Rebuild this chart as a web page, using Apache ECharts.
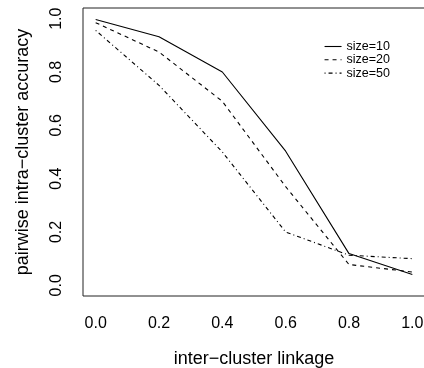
<!DOCTYPE html>
<html>
<head>
<meta charset="utf-8">
<script src="https://cdn.jsdelivr.net/npm/echarts@6/dist/echarts.min.js"></script>
<style>html,body{margin:0;padding:0;background:#fff}#c{width:424px;height:368px}</style>
</head>
<body>
<div id="c"></div>
<script>
const linkage = [0.0, 0.2, 0.4, 0.6, 0.8, 1.0];
const size10 = [0.997, 0.932, 0.80, 0.503, 0.119, 0.041];
const size20 = [0.985, 0.875, 0.69, 0.37, 0.078, 0.05];
const size50 = [0.956, 0.75, 0.50, 0.20, 0.113, 0.10];
const tickValues = [0.0, 0.2, 0.4, 0.6, 0.8, 1.0];
const seriesNames = ['size=10', 'size=20', 'size=50'];

const font = 'Liberation Sans, Arial, Helvetica, sans-serif';
const chart = echarts.init(document.getElementById('c'), null, {renderer: 'canvas'});
function pts(arr){ return linkage.map((x, i) => [x, arr[i]]); }
const styles = ['solid', [4, 4], [1, 3, 4, 3]];
const data = [size10, size20, size50];
chart.setOption({
  animation: false,
  grid: {left: 83, top: 8, right: -1, bottom: 72, show: true, borderColor: '#222', borderWidth: 1,
    outerBoundsMode: 'none', containLabel: false},
  legend: {
    orient: 'vertical', left: 324, top: 40, padding: 0,
    itemWidth: 17, itemHeight: 13, itemGap: 0.3,
    itemStyle: {opacity: 0},
    lineStyle: {width: 1.1},
    textStyle: {fontFamily: font, fontSize: 12.5, color: '#000', lineHeight: 13},
    data: seriesNames
  },
  xAxis: {
    type: 'value', min: -0.04, max: 1.04,
    name: 'inter\u2212cluster linkage', nameLocation: 'middle', nameGap: 54,
    nameTextStyle: {fontFamily: font, fontSize: 18, color: '#000'},
    axisLine: {show: false, onZero: false},
    splitLine: {show: false},
    axisTick: {show: false},
    axisLabel: {customValues: tickValues, formatter: v => v.toFixed(1), margin: 20,
      fontFamily: font, fontSize: 16, color: '#000'}
  },
  yAxis: {
    type: 'value', min: -0.04, max: 1.04,
    name: 'pairwise intra\u2212cluster accuracy', nameLocation: 'middle', nameGap: 51, nameRotate: 90,
    nameTextStyle: {fontFamily: font, fontSize: 18, color: '#000'},
    axisLine: {show: false, onZero: false},
    splitLine: {show: false},
    axisTick: {show: false},
    axisLabel: {customValues: tickValues, formatter: v => v.toFixed(1), rotate: 90, margin: 18,
      fontFamily: font, fontSize: 16, color: '#000'}
  },
  series: seriesNames.map((n, i) => ({
    name: n, type: 'line', data: pts(data[i]), symbol: 'none',
    lineStyle: {color: '#000', width: 1.1, type: styles[i]},
    itemStyle: {color: '#000'}
  }))
});
</script>
</body>
</html>
